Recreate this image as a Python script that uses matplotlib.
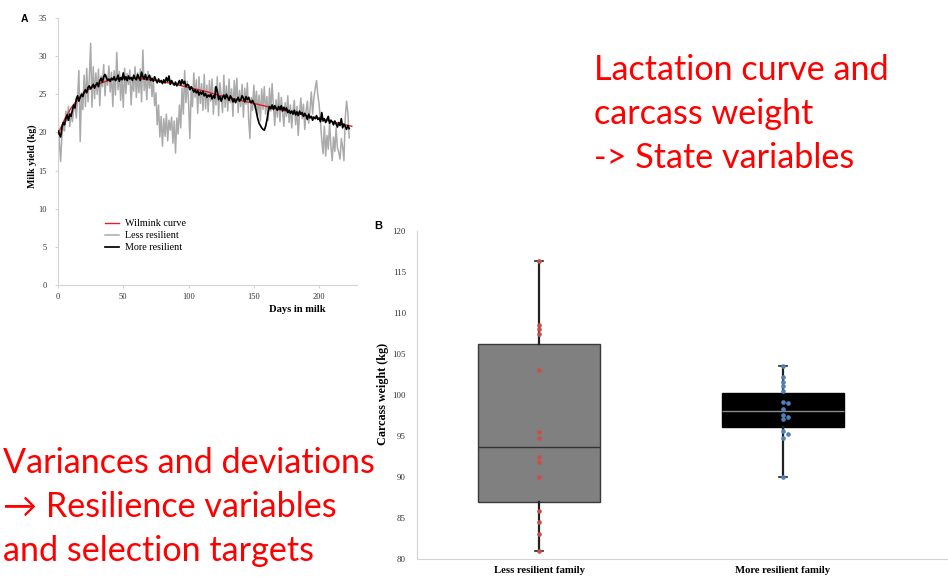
import matplotlib
matplotlib.use("Agg")
import matplotlib.pyplot as plt
import numpy as np

# ---------------- Panel A data ----------------
wilmink_days = list(range(0, 226, 5))
wilmink_vals = [19.8, 21.7, 23.2, 24.3, 25.2, 25.8, 26.3, 26.6, 26.9, 27.0,
                27.1, 27.1, 27.1, 27.0, 26.9, 26.8, 26.6, 26.5, 26.3, 26.1,
                25.9, 25.7, 25.5, 25.3, 25.0, 24.8, 24.6, 24.4, 24.2, 24.0,
                23.8, 23.6, 23.4, 23.2, 23.0, 22.8, 22.6, 22.4, 22.2, 22.0,
                21.8, 21.6, 21.4, 21.2, 21.0, 20.8]

less_resilient = [
    21.8, 19.0, 16.2, 19.5, 21.0, 20.2, 22.8, 21.5, 23.4, 20.8,
    22.6, 21.4, 22.9, 23.8, 21.9, 24.5, 28.1, 18.8, 25.2, 23.0,
    27.5, 23.4, 28.4, 24.0, 27.2, 31.7, 23.3, 28.6, 24.4, 27.8,
    25.0, 28.3, 23.5, 27.4, 26.0, 28.9, 24.8, 27.5, 26.2, 28.7,
    25.3, 27.9, 23.4, 28.1, 24.9, 30.5, 25.6, 28.0, 24.2, 27.3,
    23.3, 28.4, 25.1, 27.7, 26.3, 28.2, 23.6, 27.0, 25.4, 28.6,
    24.6, 27.8, 25.2, 28.3, 24.0, 30.8, 25.5, 27.6, 24.3, 28.0,
    25.8, 27.4, 24.7, 26.9, 23.5, 25.2, 21.0, 23.6, 19.4, 22.1,
    18.2, 21.8, 19.5, 22.4, 18.9, 21.6, 20.3, 22.0, 18.6, 21.5,
    17.3, 21.9, 19.8, 23.6, 20.6, 25.8, 22.4, 28.1, 23.9, 26.7,
    24.0, 19.2, 25.6, 23.4, 27.8, 24.6, 26.9, 22.5, 27.3, 23.8,
    26.4, 22.9, 27.6, 23.1, 26.2, 22.7, 26.8, 24.1, 27.0, 22.4,
    25.9, 23.6, 27.3, 22.2, 26.5, 24.8, 22.6, 27.5, 23.3, 26.1,
    22.8, 27.0, 23.9, 25.7, 22.1, 26.8, 24.2, 27.1, 22.6, 25.5,
    23.4, 26.3, 22.0, 25.8, 23.7, 26.5, 21.8, 19.2, 24.6, 22.9,
    26.2, 23.1, 25.4, 22.3, 24.9, 21.5, 25.7, 23.0, 26.0, 22.4,
    24.7, 21.6, 25.8, 22.8, 26.4, 23.5, 20.9, 24.3, 22.0, 25.2,
    21.4, 24.6, 22.7, 20.8, 23.9, 22.1, 24.8, 21.3, 23.6, 20.6,
    22.9, 24.2, 21.0, 23.4, 19.6, 22.5, 24.5, 21.8, 23.7, 20.4,
    22.8, 24.1, 21.2, 23.0, 25.3, 22.4, 24.6, 25.8, 26.8, 24.9,
    23.7, 21.5, 19.0, 17.2, 20.8, 16.9, 19.6, 17.8, 21.2, 18.3,
    16.3, 19.4, 17.5, 20.6, 18.0, 17.4, 16.5, 19.2, 18.1, 16.3,
    21.9, 24.1, 22.6, 19.3]

more_resilient = [
    20.2, 19.8, 19.4, 20.6, 21.3, 21.0, 21.8, 22.3, 21.6, 22.4,
    22.1, 22.9, 23.6, 23.2, 24.4, 24.8, 24.1, 24.6, 25.0, 24.7,
    25.3, 25.6, 25.2, 25.9, 26.1, 25.7, 26.0, 26.3, 25.8, 26.2,
    26.5, 26.0, 26.8, 27.1, 26.6, 27.3, 27.6, 27.2, 26.8, 27.0,
    26.7, 27.1, 26.9, 27.3, 26.8, 27.0, 27.5, 26.7, 27.2, 26.9,
    27.8, 26.9, 27.3, 26.8, 27.4, 27.0, 27.2, 26.8, 27.5, 27.1,
    26.9, 27.6, 27.2, 26.8, 27.9, 27.3, 27.0, 27.6, 26.9, 27.2,
    27.5, 26.8, 27.1, 26.7, 27.3, 26.9, 26.5, 27.0, 26.6, 26.8,
    26.4, 26.9, 26.5, 27.2, 26.7, 27.4, 26.3, 26.8, 26.5, 26.2,
    26.6, 26.1, 26.4, 26.8, 26.2, 26.9, 26.4, 26.7, 26.0, 26.3,
    26.2, 25.6, 26.0, 25.7, 25.3, 25.6, 25.2, 25.5, 24.9, 25.3,
    25.0, 25.4, 24.8, 25.1, 24.6, 24.9, 24.7, 25.0, 24.4, 24.8,
    24.5, 26.0, 25.4, 24.3, 24.7, 24.1, 24.6, 24.9, 24.4, 25.0,
    24.6, 24.2, 24.8, 24.5, 24.0, 24.4, 23.9, 24.3, 24.6, 24.1,
    24.3, 24.8, 24.5, 24.0, 24.7, 24.3, 24.6, 24.1, 23.9, 24.2,
    23.8, 23.5, 22.6, 21.8, 21.2, 20.9, 20.6, 20.4, 20.3, 20.8,
    21.6, 22.7, 23.4, 23.1, 23.6, 23.0, 23.5, 23.2, 22.9, 23.4,
    23.0, 23.5, 22.8, 23.3, 22.9, 23.2, 22.6, 22.9, 22.5, 22.8,
    22.4, 22.9, 22.3, 22.7, 22.2, 22.8, 22.4, 22.6, 22.1, 22.5,
    22.2, 21.7, 22.4, 21.9, 22.1, 21.6, 22.0, 21.8, 22.2, 21.7,
    21.9, 21.4, 22.6, 21.5, 21.8, 21.3, 21.7, 22.1, 21.2, 21.6,
    21.4, 21.0, 21.5, 21.1, 20.7, 21.3, 20.9, 21.8, 20.6, 21.1,
    20.8, 20.4, 20.9, 20.5]

days = list(range(len(more_resilient)))
x_ticks_A = [0, 50, 100, 150, 200]
y_ticks_A = [0, 5, 10, 15, 20, 25, 30, 35]

# ---------------- Panel B data ----------------
families = ["Less resilient family", "More resilient family"]
box_q1 = [86.9, 96.1]
box_median = [93.6, 98.0]
box_q3 = [106.2, 100.2]
whisker_low = [81.0, 90.0]
whisker_high = [116.3, 103.5]
less_points = [116.3, 108.5, 108.0, 107.4, 103.0, 95.5, 94.7, 92.5, 91.8,
               90.0, 85.8, 84.5, 83.0, 81.0]
more_points = [103.5, 102.2, 101.6, 101.1, 100.5, 99.1, 99.0, 98.3, 97.6,
               97.3, 97.1, 95.6, 95.3, 94.8, 90.0]
y_ticks_B = [80, 85, 90, 95, 100, 105, 110, 115, 120]

# ---------------- Figure ----------------
W, H = 948, 577
fig = plt.figure(figsize=(W / 100, H / 100), dpi=100)
serif = ["Liberation Serif", "DejaVu Serif"]
sans = ["Liberation Sans", "DejaVu Sans"]
spine_col = "#d4d4d4"

def px_axes(l, t, r, b):
    return [l / W, 1 - b / H, (r - l) / W, (b - t) / H]

# Panel A
axA = fig.add_axes(px_axes(58, 18, 357, 285))
axA.plot(days, less_resilient, color="#aaaaaa", lw=1.1, label="Less resilient", zorder=2)
axA.plot(wilmink_days, wilmink_vals, color="#e0202a", lw=1.0, label="Wilmink curve", zorder=3)
axA.plot(days, more_resilient, color="black", lw=1.25, label="More resilient", zorder=4)
axA.set_xlim(0, 229)
axA.set_ylim(0, 35)
axA.set_xticks(x_ticks_A)
axA.set_yticks(y_ticks_A)
for s in ["top", "right"]:
    axA.spines[s].set_visible(False)
for s in ["left", "bottom"]:
    axA.spines[s].set_color(spine_col)
    axA.spines[s].set_linewidth(0.8)
axA.tick_params(axis="y", length=2, color=spine_col, labelsize=6.0, pad=6)
axA.tick_params(axis="x", length=2, color=spine_col, labelsize=6.0, pad=4)
for lab in axA.get_xticklabels() + axA.get_yticklabels():
    lab.set_fontfamily(serif)
    lab.set_color("#333333")
fig.text(32 / W, 1 - 156 / H, "Milk yield (kg)", rotation=90, ha="center", va="center",
         fontfamily=serif, fontweight="bold", fontsize=7.2)
fig.text(297 / W, 1 - 310 / H, "Days in milk", ha="center", va="center",
         fontfamily=serif, fontweight="bold", fontsize=7.6)
h, l = axA.get_legend_handles_labels()
order = [1, 0, 2]
leg = axA.legend([h[i] for i in order], [l[i] for i in order], loc="upper left",
                 bbox_to_anchor=(0.145, 0.262), frameon=False,
                 prop={"family": serif, "size": 7.3}, handlelength=1.35,
                 labelspacing=0.3, handletextpad=0.6, borderaxespad=0)
fig.text(24 / W, 1 - 18.5 / H, "A", fontfamily=sans, fontweight="bold", fontsize=7.5,
         ha="center", va="center")

# Panel B
axB = fig.add_axes(px_axes(417, 231, 948, 559))
stats = []
for i in range(2):
    stats.append(dict(med=box_median[i], q1=box_q1[i], q3=box_q3[i],
                      whislo=whisker_low[i], whishi=whisker_high[i], fliers=[]))
bp = axB.bxp(stats, positions=[0, 1], widths=0.5, patch_artist=True,
             showfliers=False, capwidths=0.035)
face = ["#808080", "#000000"]
edge = ["#3a3a3a", "#000000"]
medc = ["#333333", "#8a8a8a"]
for i in range(2):
    bp["boxes"][i].set_facecolor(face[i])
    bp["boxes"][i].set_edgecolor(edge[i])
    bp["boxes"][i].set_linewidth(1.0)
    bp["medians"][i].set_color(medc[i])
    bp["medians"][i].set_linewidth(1.0)
for w in bp["whiskers"]:
    w.set_color("#222222")
    w.set_linewidth(1.6)
for c in bp["caps"]:
    c.set_color("#222222")
    c.set_linewidth(1.2)

def swarm(vals, dy=0.3, dx=0.022):
    placed = []
    offs = []
    for v in vals:
        chosen = 0.0
        for c in [0.0, dx, -dx, 2 * dx, -2 * dx]:
            if all(abs(v - pv) >= dy or abs(c - po) >= dx * 0.9 for pv, po in placed):
                chosen = c
                break
        placed.append((v, chosen))
        offs.append(chosen)
    return np.array(offs)

axB.scatter(0 + swarm(less_points), less_points, s=11, color="#c9504a", zorder=5, lw=0)
axB.scatter(1 + swarm(more_points), more_points, s=11, color="#4f81bd", zorder=5, lw=0)

axB.set_xlim(-0.5, (948 - 539) / 244)
axB.set_ylim(80, 120)
axB.set_yticks(y_ticks_B)
axB.set_xticks([0, 1])
axB.set_xticklabels(families)
for s in ["top", "right"]:
    axB.spines[s].set_visible(False)
for s in ["left", "bottom"]:
    axB.spines[s].set_color(spine_col)
    axB.spines[s].set_linewidth(0.8)
axB.tick_params(axis="y", length=0, labelsize=6.4, pad=8)
axB.tick_params(axis="x", length=0, labelsize=7.7, pad=5)
for lab in axB.get_yticklabels():
    lab.set_fontfamily(serif)
    lab.set_color("#333333")
for lab in axB.get_xticklabels():
    lab.set_fontfamily(serif)
    lab.set_fontweight("bold")
fig.text(383 / W, 1 - 394 / H, "Carcass weight (kg)", rotation=90, ha="center", va="center",
         fontfamily=serif, fontweight="bold", fontsize=8.7)
fig.text(378 / W, 1 - 226 / H, "B", fontfamily=sans, fontweight="bold", fontsize=8,
         ha="center", va="center")

# Red annotation text
red = "#ff0000"
fam = ["Lato", "DejaVu Sans"]
fs = 24.6
for txt, yb in [("Lactation curve and", 80), ("carcass weight", 124), ("-> State variables", 168)]:
    fig.text(594 / W, 1 - yb / H, txt, color=red, fontfamily=fam, fontsize=fs,
             ha="left", va="baseline")
for txt, yb in [("Variances and deviations", 473), ("\u2192 Resilience variables", 517),
                ("and selection targets", 561)]:
    fig.text(3 / W, 1 - yb / H, txt, color=red, fontfamily=fam, fontsize=fs,
             ha="left", va="baseline")

fig.savefig("out.png", dpi=100)
